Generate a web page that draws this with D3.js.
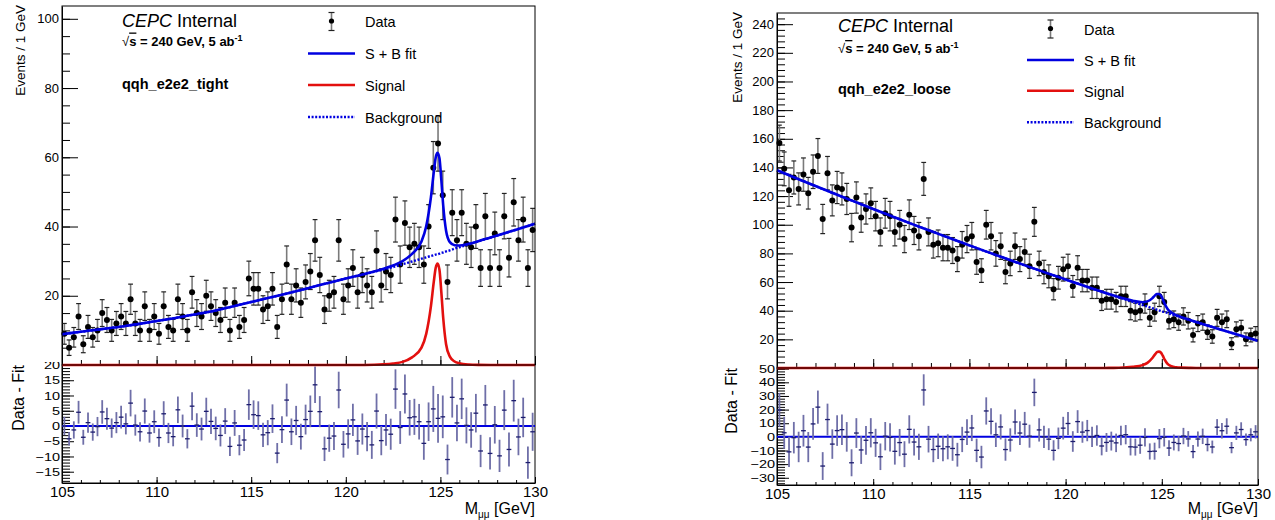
<!DOCTYPE html>
<html lang="en">
<head>
<meta charset="UTF-8">
<title>qqh_e2e2 dimuon mass fits</title>
<script src="https://d3js.org/d3.v7.min.js"></script>
<style>
  body, html { margin: 0; background: #fff; }
  svg { display: block; font-family: 'Liberation Sans', Arial, sans-serif; }
</style>
</head>
<body>
<svg id="chart" width="1275" height="520"></svg>
<script>
// 100 bins of 0.25 GeV between 105 and 130 GeV
const binCenters = d3.range(100).map(i => 105.125 + 0.25 * i);

// ---- tight category ----
const tightCounts = [9,5,8,14,6,11,8,10,15,13, 10,12,14,12,19,12,10,17,10,14,
  9,17,11,10,19,14,10,21,15,14, 20,17,15,13,18,10,18,11,13,25,
  22,22,16,17,22,11,19,29,19,23, 18,24,27,36,26,16,20,21,36,19,
  23,28,21,26,23,21,33,23,27,26, 42,29,41,34,35,34,29,40,57,64,
  49,24,44,36,44,35,34,40,28,43, 28,38,28,43,31,47,36,42,28,39];
const tightResid = [0,-4.2,-1.3,4.5,-3.7,1.1,-2,-0.2,4.6,2.4, -0.7,1.1,2.9,0.7,7.5,0.3,-1.9,4.9,-2.3,1.4,
  -3.8,4,-2.3,-3.5,5.3,0,-4.2,6.5,0.3,-1, 4.8,1.5,-0.8,-3.1,1.6,-6.7,1,-6.3,-4.6,7,
  3.7,3.4,-2.9,-2.2,2.4,-8.9,-1.2,8.5,-1.9,1.8, -3.5,2.1,4.8,13.5,4.7,-7.5,-4,-3.3,11.8,-6,
  -2.6,2,-4.9,-1,-3.5,-6.2,4.9,-4.8,-1.3,-2.7, 12.1,-0.5,10.5,2.7,3,1.4,-5.7,1.4,5.6,2.5,
  3,-11,9.4,1,8.9,0.2,-1.3,4.2,-8.2,6.9, -9,0.4,-9.8,5.2,-7.7,8.3,-3.6,2.8,-12,-1.9];

// ---- loose category ----
const looseCounts = [157,139,124,133,125,135,122,137,148,104, 136,117,126,125,118,98,119,105,111,115,
  106,95,108,106,95,100,90,107,96,92, 132,95,86,87,84,84,82,76,86,90,
  92,74,68,100,92,80,85,67,73,85, 76,81,71,102,73,67,64,55,63,69,
  71,57,70,61,61,56,56,47,48,48, 46,50,50,40,39,40,45,35,39,50,
  46,33,34,32,36,33,23,31,32,25, 22,35,32,34,17,27,28,20,23,24];
const looseResid = [19.7,3,-11,-0.6,-7.4,4.5,-7.5,9.5,21.8,-21.4, 12.7,-5.3,4.6,5.3,0,-19,2.8,-9.6,-2.5,3,
  -4.4,-14.6,0.5,-0.4,-10.6,-4.2,-12.7,5.5,-3.8,-7.3, 34.4,-1.7,-9.3,-6.9,-8.7,-7.3,-8.5,-13.1,-1.9,3.5,
  6.5,-9.9,-14.8,19,11.4,1.5,7.3,-9.3,-2.3,10.9, 2.8,9.3,0.5,32.6,5.1,0,-1.7,-9.9,-1.1,6.4,
  9.8,-3.4,11.2,3.5,4.6,0,1,-6.7,-4.1,-3.1, -4.4,1,1.6,-7.3,-7.5,-6.1,-0.4,-10.7,-10.5,-1.3,
  -0.3,-8.2,-4.1,-4.9,0.6,-1.5,-10.8,-1.6,0.4,-5.6, -7.4,7.1,4.5,7.8,-7.9,2.9,5.4,-2,1.5,3.7];

// ---- fitted pdf curves, sampled ----
const fitX = [105,106,107,108,109,110,111,112,113,114,115,116,117,118,119,120,121,122,122.5,123,123.5,124,
  124.25,124.5,124.65,124.75,124.85,124.95,125.05,125.15,125.3,125.5,125.75,126,126.5,127,128,129,130];
const tightBkg = [8.9,9.6,10.3,11.0,11.8,12.7,13.6,14.6,15.6,16.9,18.2,19.5,20.8,22.2,23.6,25.0,26.3,27.6,
  28.3,29.1,29.9,30.7,31.1,31.5,31.7,31.9,32.0,32.2,32.4,32.5,32.8,33.1,33.6,34.0,34.85,35.7,37.4,39.1,40.8];
const tightSig = [0,0,0,0,0,0,0,0,0,0,0,0,0,0,0,0,0,0.2,0.45,0.9,2.2,5,9,17,24,28,29.3,27.5,21,13.5,6,2.4,1.0,0.5,0.15,0.05,0,0,0];
const tightTotal = [8.9,9.6,10.3,11.0,11.8,12.7,13.6,14.6,15.6,16.9,18.2,19.5,20.8,22.2,23.6,25.0,26.3,27.8,
  28.75,30.0,32.1,35.7,40.1,48.5,55.7,59.9,61.3,59.7,53.4,46.0,38.8,35.5,34.6,34.5,35.0,35.75,37.4,39.1,40.8];
const looseBkg = [138,132.5,127.0,121.6,116.3,111.0,105.8,100.6,95.6,90.6,85.6,80.7,75.9,71.1,66.4,61.8,57.2,52.7,
  50.5,48.3,46.1,43.9,42.9,41.8,41.2,40.7,40.3,39.8,39.4,39.0,38.4,37.5,36.4,35.4,33.3,31.2,27.1,23.0,19.0];
const looseSig = [0,0,0,0,0,0,0,0,0,0,0,0,0,0,0,0,0,0.05,0.1,0.3,0.8,2.0,3.6,6.8,9.5,11.0,11.4,10.8,8.6,5.8,2.8,1.2,0.5,0.25,0.08,0.02,0,0,0];
const looseTotal = [138,132.5,127.0,121.6,116.3,111.0,105.8,100.6,95.6,90.6,85.6,80.7,75.9,71.1,66.4,61.8,57.2,52.75,
  50.6,48.6,46.9,45.9,46.5,48.6,50.7,51.7,51.7,50.6,48.0,44.8,41.2,38.7,36.9,35.65,33.4,31.2,27.1,23.0,19.0];

// ---- tick values ----
const xMajor = [105,110,115,120,125,130];
const xMinor = d3.range(105, 131, 1);
const tightYMajor = [20,40,60,80,100];
const tightYMinor = d3.range(0, 104, 5);
const looseYMajor = [20,40,60,80,100,120,140,160,180,200,220,240];
const looseYMinor = d3.range(0, 248, 4);
const tightResMajor = [-15,-10,-5,0,5,10,15,20];
const tightResMinor = d3.range(-18, 21, 1);
const looseResMajor = [-30,-20,-10,0,10,20,30,40,50];
const looseResMinor = d3.range(-34, 51, 2);

const BLUE = '#0000e0', RED = '#e3100f';
const svg = d3.select('#chart');

const panels = [
  {pad: [0, 640], left: 62, right: 535, top: 6, mid: 365, bottom: 483, cover: 362,
   yMax: 103.7, resMin: -18.7, resMax: 20,
   counts: tightCounts, resid: tightResid, bkg: tightBkg, sig: tightSig, total: tightTotal,
   yMajor: tightYMajor, yMinor: tightYMinor, rMajor: tightResMajor, rMinor: tightResMinor,
   label: 'qqh_e2e2_tight', textX: 122, cepcY: 26.7, lumiY: 45.5, catY: 89,
   legX: 308, legY: [21, 53.5, 85, 117], ytitleX: 25, rtitleX: 24, xlabY: 497},
  {pad: [640, 1275], left: 777, right: 1258, top: 13, mid: 368, bottom: 485, cover: 365,
   yMax: 247.8, resMin: -35.3, resMax: 50.5,
   counts: looseCounts, resid: looseResid, bkg: looseBkg, sig: looseSig, total: looseTotal,
   yMajor: looseYMajor, yMinor: looseYMinor, rMajor: looseResMajor, rMinor: looseResMinor,
   label: 'qqh_e2e2_loose', textX: 838, cepcY: 32.3, lumiY: 53, catY: 94,
   legX: 1027, legY: [28.5, 60, 90.7, 122.3], ytitleX: 741.5, rtitleX: 736.5, xlabY: 499}
];

const minus = d => String(d).replace('-', '\u2212');

function styleAxis(sel, size) {
  sel.attr('font-family', null).attr('font-size', size);
  sel.selectAll('line').attr('stroke', '#000').attr('stroke-width', 1);
  sel.select('.domain').attr('stroke', '#000');
}

function errBar(g, cx, y0, y1, cap) {
  g.append('line').attr('x1', cx).attr('x2', cx).attr('y1', y0).attr('y2', y1)
    .attr('stroke', '#7a7a7a').attr('stroke-width', 1.6);
  [y0, y1].forEach(yy => g.append('line').attr('x1', cx - cap).attr('x2', cx + cap)
    .attr('y1', yy).attr('y2', yy).attr('stroke', '#222').attr('stroke-width', 1.2));
}

panels.forEach(p => {
  const x = d3.scaleLinear().domain([105, 130]).range([p.left, p.right]);
  const y = d3.scaleLinear().domain([0, p.yMax]).range([p.mid, p.top]);
  const r = d3.scaleLinear().domain([p.resMin, p.resMax]).range([p.bottom, p.mid]);
  const g = svg.append('g');

  // ---------- lower pad: residuals ----------
  const low = g.append('g');
  low.append('rect').attr('x', p.left).attr('y', p.mid).attr('width', p.right - p.left)
    .attr('height', p.bottom - p.mid).attr('fill', 'none').attr('stroke', '#000');

  low.append('g').attr('transform', `translate(${p.left},0)`)
    .call(d3.axisLeft(r).tickValues(p.rMinor).tickFormat('').tickSizeInner(-8).tickSizeOuter(0))
    .call(s => { styleAxis(s, 15); s.select('.domain').remove(); });
  low.append('g').attr('transform', `translate(${p.left},0)`)
    .call(d3.axisLeft(r).tickValues(p.rMajor).tickFormat(minus).tickSizeInner(-12).tickSizeOuter(0).tickPadding(2))
    .call(s => {
      styleAxis(s, 14.5);
      // ROOT draws these labels squeezed vertically
      s.selectAll('text').attr('transform', 'scale(1,0.78)');
    });

  low.append('g').attr('transform', `translate(0,${p.bottom})`)
    .call(d3.axisBottom(x).tickValues(xMinor).tickFormat('').tickSizeInner(-3).tickSizeOuter(0))
    .call(s => { styleAxis(s, 15); s.select('.domain').remove(); });
  low.append('g').attr('transform', `translate(0,${p.bottom})`)
    .call(d3.axisBottom(x).tickValues(xMajor).tickFormat(d3.format('d')).tickSizeInner(-6).tickSizeOuter(0).tickPadding(p.xlabY - p.bottom - 10.6))
    .call(s => styleAxis(s, 15));

  low.append('line').attr('x1', p.left).attr('x2', p.right).attr('y1', r(0)).attr('y2', r(0))
    .attr('stroke', BLUE).attr('stroke-width', 2);

  const halfBin = (x(105.25) - x(105)) / 2;
  p.resid.forEach((v, i) => {
    const cx = x(binCenters[i]);
    const e = Math.sqrt(p.counts[i]);
    low.append('line').attr('x1', cx).attr('x2', cx)
      .attr('y1', r(Math.max(v - e, p.resMin))).attr('y2', r(Math.min(v + e, p.resMax)))
      .attr('stroke', '#6f6fa8').attr('stroke-width', 1.8);
    low.append('line').attr('x1', cx - halfBin).attr('x2', cx + halfBin).attr('y1', r(v)).attr('y2', r(v))
      .attr('stroke', '#1c1c6e').attr('stroke-width', 1.3);
  });

  low.append('text').attr('transform', `translate(${p.rtitleX},${p.mid}) rotate(-90)`)
    .attr('text-anchor', 'end').attr('font-size', 16).text('Data - Fit');

  const xt = low.append('text').attr('x', p.right).attr('y', 514).attr('text-anchor', 'end').attr('font-size', 16);
  xt.append('tspan').text('M');
  xt.append('tspan').attr('font-size', 10).attr('dy', 4).text('μμ');
  xt.append('tspan').attr('dy', -4).text(' [GeV]');

  // ---------- upper pad ----------
  g.append('rect').attr('x', p.pad[0]).attr('y', 0).attr('width', p.pad[1] - p.pad[0])
    .attr('height', p.cover).attr('fill', '#fff');
  const up = g.append('g');

  up.append('g').attr('transform', `translate(${p.left},0)`)
    .call(d3.axisLeft(y).tickValues(p.yMinor).tickFormat('').tickSizeInner(-8).tickSizeOuter(0))
    .call(s => { styleAxis(s, 13); s.select('.domain').remove(); });
  up.append('g').attr('transform', `translate(${p.left},0)`)
    .call(d3.axisLeft(y).tickValues(p.yMajor).tickSizeInner(-16).tickSizeOuter(0).tickPadding(3))
    .call(s => styleAxis(s, 13));
  up.append('g').attr('transform', `translate(0,${p.mid})`)
    .call(d3.axisBottom(x).tickValues(xMinor).tickFormat('').tickSizeInner(-5).tickSizeOuter(0))
    .call(s => { styleAxis(s, 13); s.select('.domain').remove(); });
  up.append('g').attr('transform', `translate(0,${p.mid})`)
    .call(d3.axisBottom(x).tickValues(xMajor).tickFormat('').tickSizeInner(-9).tickSizeOuter(0))
    .call(s => { styleAxis(s, 13); s.select('.domain').remove(); });

  up.append('text').attr('transform', `translate(${p.ytitleX},${p.top - 1}) rotate(-90)`)
    .attr('text-anchor', 'end').attr('font-size', 13.5).text('Events / 1 GeV');

  // data points
  p.counts.forEach((c, i) => {
    const cx = x(binCenters[i]);
    const e = Math.sqrt(c);
    errBar(up, cx, y(c + e), y(Math.max(c - e, 0)), 2.4);
    up.append('circle').attr('cx', cx).attr('cy', y(c)).attr('r', 3).attr('fill', '#000');
  });

  // curves
  const line = vals => d3.line().x((d, i) => x(fitX[i])).y(d => y(d)).curve(d3.curveMonotoneX)(vals);
  up.append('path').attr('d', line(p.sig)).attr('fill', 'none').attr('stroke', RED).attr('stroke-width', 2.6);
  up.append('path').attr('d', line(p.bkg)).attr('fill', 'none').attr('stroke', BLUE).attr('stroke-width', 2.4)
    .attr('stroke-dasharray', '2,1.6');
  up.append('path').attr('d', line(p.total)).attr('fill', 'none').attr('stroke', BLUE).attr('stroke-width', 2.6);

  // frame
  up.append('rect').attr('x', p.left).attr('y', p.top).attr('width', p.right - p.left)
    .attr('height', p.mid - p.top).attr('fill', 'none').attr('stroke', '#000');

  // labels
  const t1 = up.append('text').attr('x', p.textX).attr('y', p.cepcY).attr('font-size', 18);
  t1.append('tspan').attr('font-style', 'italic').text('CEPC');
  t1.append('tspan').text(' Internal');
  const t2 = up.append('text').attr('x', p.textX).attr('y', p.lumiY).attr('font-size', 13).attr('font-weight', 'bold');
  t2.append('tspan').attr('font-weight', 'normal').text('√');
  t2.append('tspan').attr('text-decoration', 'overline').text('s');
  t2.append('tspan').text(' = 240 GeV, 5 ab');
  t2.append('tspan').attr('font-size', 9).attr('dy', -5).text('-1');
  up.append('text').attr('x', p.textX).attr('y', p.catY).attr('font-size', 14.5).attr('font-weight', 'bold').text(p.label);

  // legend
  const lx0 = p.legX, lx1 = p.legX + 47, mx = (lx0 + lx1) / 2, tx = p.legX + 57;
  const legNames = ['Data', 'S + B fit', 'Signal', 'Background'];
  errBar(up, mx, p.legY[0] - 8.5, p.legY[0] + 9.5, 3);
  up.append('circle').attr('cx', mx).attr('cy', p.legY[0]).attr('r', 2.6).attr('fill', '#000');
  up.append('line').attr('x1', lx0).attr('x2', lx1).attr('y1', p.legY[1]).attr('y2', p.legY[1])
    .attr('stroke', BLUE).attr('stroke-width', 2.6);
  up.append('line').attr('x1', lx0).attr('x2', lx1).attr('y1', p.legY[2]).attr('y2', p.legY[2])
    .attr('stroke', RED).attr('stroke-width', 2.6);
  up.append('line').attr('x1', lx0).attr('x2', lx1).attr('y1', p.legY[3]).attr('y2', p.legY[3])
    .attr('stroke', BLUE).attr('stroke-width', 2.4).attr('stroke-dasharray', '2,1.6');
  legNames.forEach((n, i) => up.append('text').attr('x', tx).attr('y', p.legY[i] + (i === 0 ? 6 : 5.8))
    .attr('font-size', 14.5).text(n));
});
</script>
</body>
</html>
